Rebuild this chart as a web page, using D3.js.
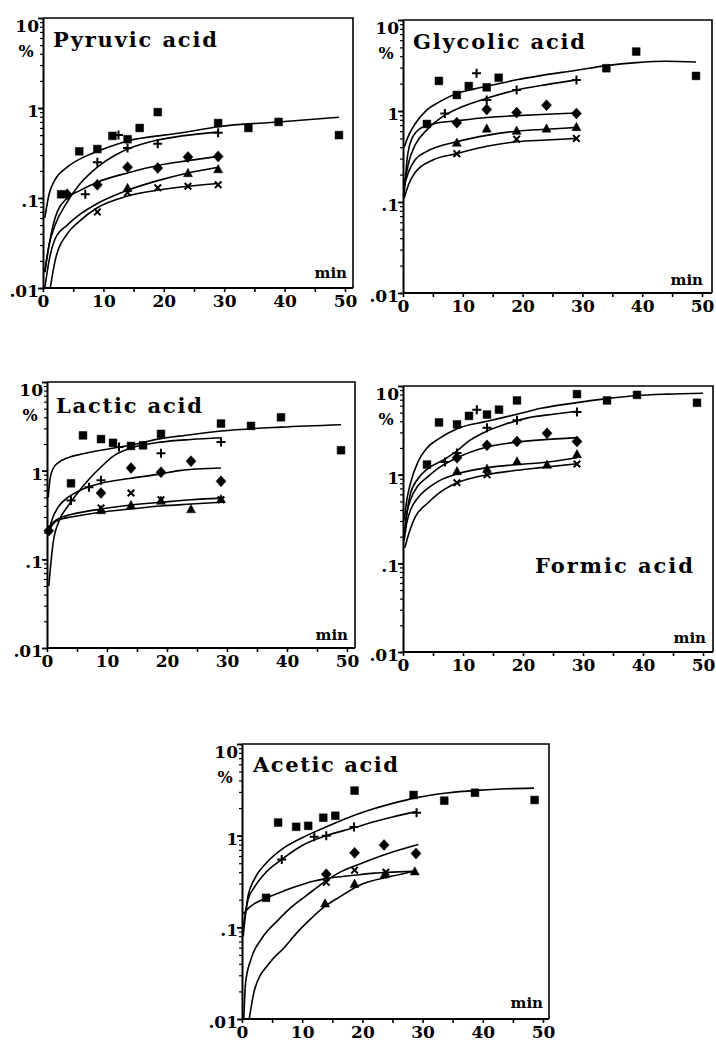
<!DOCTYPE html>
<html><head><meta charset="utf-8">
<script src="https://cdn.jsdelivr.net/npm/d3@7"></script>
<style>body{margin:0;background:#fff}</style>
</head><body><svg id="c" width="716" height="1047" xmlns="http://www.w3.org/2000/svg"></svg>
<script>
// ---------- DATA ----------
// series order: square, plus, diamond, triangle, cross
const seriesSymbols = ["square", "plus", "diamond", "triangle", "cross"];
const xTickValues = [0, 5, 10, 15, 20, 25, 30, 35, 40, 45, 50];
const xTickLabels = ["0", "", "10", "", "20", "", "30", "", "40", "", "50"];
const yMajorValues = [0.01, 0.1, 1, 10];
const yMajorLabels = [".01", ".1", "1", "10"];
const acidNames = ["Pyruvic acid", "Glycolic acid", "Lactic acid", "Formic acid", "Acetic acid"];
const unitLabel = "min";
const yUnit = "%";

// Pyruvic acid
const pyruvicSquare = [[3,0.11],[6,0.33],[9,0.35],[11.5,0.49],[14,0.45],[16,0.6],[19,0.9],[29,0.68],[34,0.6],[39,0.7],[49,0.5]];
const pyruvicPlus = [[7,0.11],[9,0.25],[12.5,0.5],[14,0.36],[19,0.4],[29,0.53]];
const pyruvicDiamond = [[4,0.11],[9,0.14],[14,0.22],[19,0.215],[24,0.285],[29,0.29]];
const pyruvicTriangle = [[14,0.13],[24,0.19],[29,0.21]];
const pyruvicCross = [[9,0.07],[14,0.115],[19,0.13],[24,0.135],[29,0.14]];
const pyruvicFitSquare = [[0.3,0.06],[1,0.11],[2,0.16],[4,0.22],[7,0.29],[10,0.35],[14,0.43],[20,0.5],[23,0.53],[29,0.62],[39,0.7],[49,0.79]];
const pyruvicFitPlus = [[0.3,0.015],[1,0.03],[2,0.05],[4,0.09],[6,0.14],[9,0.22],[12,0.3],[15,0.37],[19,0.44],[23,0.49],[29,0.54]];
const pyruvicFitDiamond = [[0.3,0.015],[1,0.03],[2,0.06],[4,0.1],[6,0.12],[9,0.15],[14,0.19],[19,0.23],[24,0.26],[29,0.29]];
const pyruvicFitTriangle = [[0.3,0.01],[1,0.02],[2,0.035],[4,0.05],[6,0.065],[9,0.087],[14,0.122],[19,0.156],[24,0.19],[29,0.22]];
const pyruvicFitCross = [[1.2,0.01],[2,0.02],[4,0.04],[6,0.055],[9,0.078],[14,0.105],[19,0.122],[24,0.135],[29,0.145]];

// Glycolic acid
const glycolicSquare = [[4,0.72],[6,2.14],[9,1.5],[11,1.88],[14,1.82],[16,2.32],[34,2.95],[39,4.5],[49,2.43]];
const glycolicPlus = [[7,0.94],[12.3,2.6],[14,1.32],[19,1.7],[29,2.19]];
const glycolicDiamond = [[9,0.745],[14,1.04],[19,0.96],[24,1.16],[29,0.94]];
const glycolicTriangle = [[9,0.45],[14,0.645],[19,0.61],[24,0.645],[29,0.67]];
const glycolicCross = [[9,0.34],[19,0.49],[29,0.5]];
const glycolicFitSquare = [[0.2,0.4],[1,0.55],[2,0.72],[4,1.03],[6,1.25],[9,1.56],[12,1.75],[15,1.93],[19,2.2],[23,2.45],[29,2.8],[34,3.15],[39,3.4],[44,3.52],[49,3.45]];
const glycolicFitPlus = [[0.2,0.15],[1,0.28],[2,0.42],[4,0.62],[7,0.9],[10,1.12],[14,1.38],[19,1.7],[24,1.95],[29,2.2]];
const glycolicFitDiamond = [[0.2,0.12],[0.7,0.3],[1.5,0.5],[3,0.65],[5,0.72],[9,0.78],[14,0.85],[19,0.89],[24,0.92],[29,0.95]];
const glycolicFitTriangle = [[0.2,0.15],[1,0.22],[2,0.29],[4,0.36],[9,0.46],[14,0.54],[19,0.6],[24,0.63],[29,0.66]];
const glycolicFitCross = [[0.2,0.11],[1,0.16],[2,0.21],[5,0.29],[9,0.34],[14,0.41],[19,0.46],[24,0.48],[29,0.5]];

// Lactic acid
const lacticSquare = [[4,0.72],[6,2.5],[9,2.27],[11,2.06],[14,1.9],[16,1.93],[19,2.6],[29,3.4],[34,3.2],[39,4.0],[49,1.7]];
const lacticPlus = [[4,0.46],[7,0.65],[9,0.78],[12,1.85],[19,1.57],[29,2.1]];
const lacticDiamond = [[0.3,0.21],[9,0.56],[14,1.07],[19,0.96],[24,1.28],[29,0.76]];
const lacticTriangle = [[9,0.36],[14,0.41],[19,0.46],[24,0.37],[29,0.48]];
const lacticCross = [[9,0.38],[14,0.56],[19,0.47],[29,0.47]];
const lacticFitSquare = [[0.2,0.5],[0.5,0.8],[1,1.05],[2,1.25],[3.5,1.4],[6,1.55],[9,1.7],[14,1.95],[19,2.3],[22,2.45],[29,2.8],[39,3.1],[49,3.3]];
const lacticFitPlus = [[0.3,0.05],[1,0.15],[2,0.27],[3.5,0.4],[5,0.55],[7,0.8],[9,1.1],[11,1.45],[14,1.8],[19,2.1],[24,2.25],[29,2.35]];
const lacticFitDiamond = [[0.2,0.2],[1,0.3],[2,0.4],[3.5,0.5],[6,0.62],[9,0.72],[14,0.82],[19,0.92],[22,1.0],[29,1.07]];
const lacticFitTriangle = [[0.2,0.2],[1,0.25],[2,0.28],[4,0.3],[9,0.34],[14,0.37],[19,0.4],[24,0.42],[29,0.44]];
const lacticFitCross = [[0.2,0.2],[1,0.26],[2,0.29],[4,0.32],[9,0.37],[14,0.41],[19,0.44],[24,0.47],[29,0.49]];

// Formic acid
const formicSquare = [[4,1.3],[6,3.88],[9,3.69],[11,4.6],[14,4.76],[16,5.41],[19,6.87],[29,8.1],[34,6.87],[39,7.94],[49,6.47]];
const formicPlus = [[7,1.39],[9,1.75],[12.3,5.4],[14,3.39],[19,4.12],[29,5.1]];
const formicDiamond = [[9,1.55],[14,2.14],[19,2.37],[24,2.93],[29,2.37]];
const formicTriangle = [[9,1.1],[14,1.17],[19,1.42],[24,1.3],[29,1.71]];
const formicCross = [[9,0.81],[14,1.0],[29,1.32]];
const formicFitSquare = [[0.2,0.3],[0.6,0.5],[1.2,0.78],[2.5,1.4],[4,2.0],[6,2.55],[9,3.3],[14,4.0],[19,4.8],[23,5.6],[29,6.5],[34,7.2],[39,7.8],[44,8.1],[50,8.3]];
const formicFitPlus = [[0.2,0.2],[0.6,0.35],[1.2,0.6],[2.5,0.9],[4,1.15],[7,1.5],[9,1.85],[11,2.4],[14,3.1],[17,3.7],[21,4.4],[25,4.8],[29,5.2]];
const formicFitDiamond = [[0.2,0.2],[0.6,0.35],[1.2,0.51],[2.5,0.75],[4,0.93],[6,1.2],[9,1.55],[14,2.05],[19,2.33],[23,2.47],[29,2.62]];
const formicFitTriangle = [[0.2,0.18],[0.6,0.28],[1.2,0.39],[2.5,0.55],[4,0.69],[6,0.85],[9,1.02],[14,1.2],[19,1.3],[23,1.36],[29,1.55]];
const formicFitCross = [[0.3,0.15],[1,0.22],[2,0.33],[4,0.47],[6,0.62],[9,0.81],[14,1.0],[19,1.12],[23,1.2],[29,1.33]];

// Acetic acid
const aceticSquare = [[4,0.21],[6,1.39],[9,1.25],[11,1.28],[13.5,1.57],[15.5,1.65],[18.7,3.1],[28.5,2.78],[33.6,2.41],[38.7,2.94],[48.6,2.45]];
const aceticPlus = [[6.6,0.55],[12,0.975],[14,1.0],[18.6,1.24],[29,1.78]];
const aceticDiamond = [[14,0.38],[18.7,0.65],[23.6,0.79],[28.9,0.64]];
const aceticTriangle = [[13.8,0.183],[18.7,0.30],[23.7,0.38],[28.7,0.41]];
const aceticCross = [[14,0.31],[18.7,0.42],[23.9,0.4]];
const aceticFitSquare = [[0.2,0.08],[1,0.22],[2,0.33],[4,0.5],[7,0.74],[10,0.95],[13,1.17],[16,1.42],[19,1.7],[22,1.98],[25,2.25],[29,2.6],[34,2.92],[39,3.12],[44,3.25],[48.5,3.3]];
const aceticFitPlus = [[0.2,0.1],[1,0.2],[2,0.27],[4,0.4],[6.6,0.55],[10,0.78],[14,1.0],[18.6,1.22],[21.3,1.38],[25,1.6],[29,1.83]];
const aceticFitDiamond = [[0.3,0.01],[0.6,0.025],[1.5,0.045],[3.3,0.076],[6,0.12],[8.3,0.168],[11,0.23],[13.3,0.3],[16,0.39],[19.9,0.5],[24,0.63],[29.3,0.8]];
const aceticFitTriangle = [[1.2,0.01],[2.1,0.021],[4.6,0.041],[7,0.06],[9.1,0.087],[11.5,0.125],[13.8,0.17],[16,0.21],[19.6,0.29],[24.8,0.36],[28.7,0.41]];
const aceticFitCross = [[0.2,0.14],[1,0.16],[2,0.18],[4.1,0.21],[7,0.25],[9.1,0.28],[12,0.32],[14,0.34],[18.7,0.37],[22,0.39],[25,0.4],[29,0.41]];

// ---------- LAYOUT ----------
const layouts = [
  {x0:43,  x1:345, right:353, top:18,  bottom:288,  title:[53,47,164],  min:[347,278]},
  {x0:403, x1:702, right:712, top:20,  bottom:293,  title:[413,49,172], min:[703,285]},
  {x0:47,  x1:347, right:355, top:382, bottom:648,  title:[56,413,146], min:[348,640]},
  {x0:403, x1:703, right:713, top:386, bottom:652,  title:[535,573,158],min:[706,643]},
  {x0:242, x1:543, right:549, top:744, bottom:1019, title:[253,772,145], min:[543,1008]}
];
const pointSets = [
  [pyruvicSquare, pyruvicPlus, pyruvicDiamond, pyruvicTriangle, pyruvicCross],
  [glycolicSquare, glycolicPlus, glycolicDiamond, glycolicTriangle, glycolicCross],
  [lacticSquare, lacticPlus, lacticDiamond, lacticTriangle, lacticCross],
  [formicSquare, formicPlus, formicDiamond, formicTriangle, formicCross],
  [aceticSquare, aceticPlus, aceticDiamond, aceticTriangle, aceticCross]
];
const fitSets = [
  [pyruvicFitSquare, pyruvicFitPlus, pyruvicFitDiamond, pyruvicFitTriangle, pyruvicFitCross],
  [glycolicFitSquare, glycolicFitPlus, glycolicFitDiamond, glycolicFitTriangle, glycolicFitCross],
  [lacticFitSquare, lacticFitPlus, lacticFitDiamond, lacticFitTriangle, lacticFitCross],
  [formicFitSquare, formicFitPlus, formicFitDiamond, formicFitTriangle, formicFitCross],
  [aceticFitSquare, aceticFitPlus, aceticFitDiamond, aceticFitTriangle, aceticFitCross]
];

const serif = "'DejaVu Serif', 'Liberation Serif', serif";
const svg = d3.select("#c");
svg.append("rect").attr("width",716).attr("height",1047).attr("fill","#fff");

const markerShapes = {
  square:   {d:"M-3.9,-3.9H3.9V3.9H-3.9Z", fill:true},
  plus:     {d:"M-4.5,0H4.5M0,-4.5V4.5", fill:false},
  diamond:  {d:"M0,-5.5L5,0L0,5.5L-5,0Z", fill:true},
  triangle: {d:"M0,-4.5L4.5,3.8H-4.5Z", fill:true},
  cross:    {d:"M-3.3,-3.3L3.3,3.3M3.3,-3.3L-3.3,3.3", fill:false}
};

const yMinorValues = [];
[0.01, 0.1, 1].forEach(b => { for (let k = 1; k <= 9; k++) yMinorValues.push(+(b*k).toPrecision(3)); });
yMinorValues.push(10);

layouts.forEach((L, pi) => {
  const g = svg.append("g");
  const x = d3.scaleLinear().domain([0, 50]).range([L.x0, L.x1]);
  const y = d3.scaleLog().domain([0.01, 10]).range([L.bottom, L.top]);

  // frame: top and right
  g.append("path")
    .attr("d", `M${L.x0},${L.top}H${L.right}V${L.bottom}`)
    .attr("fill","none").attr("stroke","#000").attr("stroke-width",1.6);

  // x axis
  const xa = d3.axisBottom(x).tickValues(xTickValues).tickSizeOuter(0).tickSize(4).tickPadding(3)
    .tickFormat((d,i) => xTickLabels[i]);
  const gx = g.append("g").attr("transform", `translate(0,${L.bottom})`).call(xa);
  gx.select(".domain").attr("d", `M${L.x0},0H${L.right}`).attr("stroke-width",2);
  gx.selectAll(".tick line").attr("stroke-width",1.6);
  gx.selectAll(".tick text").attr("font-family", serif).attr("font-weight","bold")
    .attr("font-size",17).attr("fill","#000");

  // y axis minor ticks
  const yMinor = d3.axisLeft(y).tickValues(yMinorValues).tickSize(3).tickSizeOuter(0).tickFormat("");
  const gym = g.append("g").attr("transform", `translate(${L.x0},0)`).call(yMinor);
  gym.select(".domain").attr("stroke-width",2);
  gym.selectAll(".tick line").attr("stroke-width",1.2);
  // y axis major ticks and labels
  const yMajor = d3.axisLeft(y).tickValues(yMajorValues).tickSize(5).tickSizeOuter(0).tickPadding(-1)
    .tickFormat((d,i) => yMajorLabels[i]);
  const gy = g.append("g").attr("transform", `translate(${L.x0},0)`).call(yMajor);
  gy.select(".domain").remove();
  gy.selectAll(".tick line").attr("stroke-width",1.8);
  gy.selectAll(".tick text").attr("font-family", serif).attr("font-weight","bold")
    .attr("font-size",17).attr("fill","#000")
    .attr("dy", d => d === 10 ? "0.8em" : "0.5em");

  // "%" label
  g.append("text").attr("x", L.x0 - 17).attr("y", L.top + 39)
    .attr("text-anchor","middle").attr("font-family", serif).attr("font-weight","bold")
    .attr("font-size",16).text(yUnit);

  // "min" label
  g.append("text").attr("x", L.min[0]).attr("y", L.min[1]).attr("text-anchor","end")
    .attr("font-family", serif).attr("font-weight","bold").attr("font-size",15).text(unitLabel);

  // title
  g.append("text").attr("x", L.title[0]).attr("y", L.title[1])
    .attr("font-family", serif).attr("font-weight","bold").attr("font-size",21)
    .attr("textLength", L.title[2]).attr("lengthAdjust","spacing")
    .text(acidNames[pi]);

  // fitted curves
  const line = d3.line().x(d => x(d[0])).y(d => y(d[1])).curve(d3.curveMonotoneX);
  fitSets[pi].forEach(f => {
    g.append("path").attr("d", line(f)).attr("fill","none")
      .attr("stroke","#000").attr("stroke-width",1.6);
  });

  // markers
  pointSets[pi].forEach((pts, si) => {
    const shape = markerShapes[seriesSymbols[si]];
    g.selectAll(null).data(pts).enter().append("path")
      .attr("transform", d => `translate(${x(d[0])},${y(d[1])})`)
      .attr("d", shape.d)
      .attr("fill", shape.fill ? "#000" : "none")
      .attr("stroke", "#000")
      .attr("stroke-width", shape.fill ? 0.5 : 2);
  });
});
</script>
</body></html>
